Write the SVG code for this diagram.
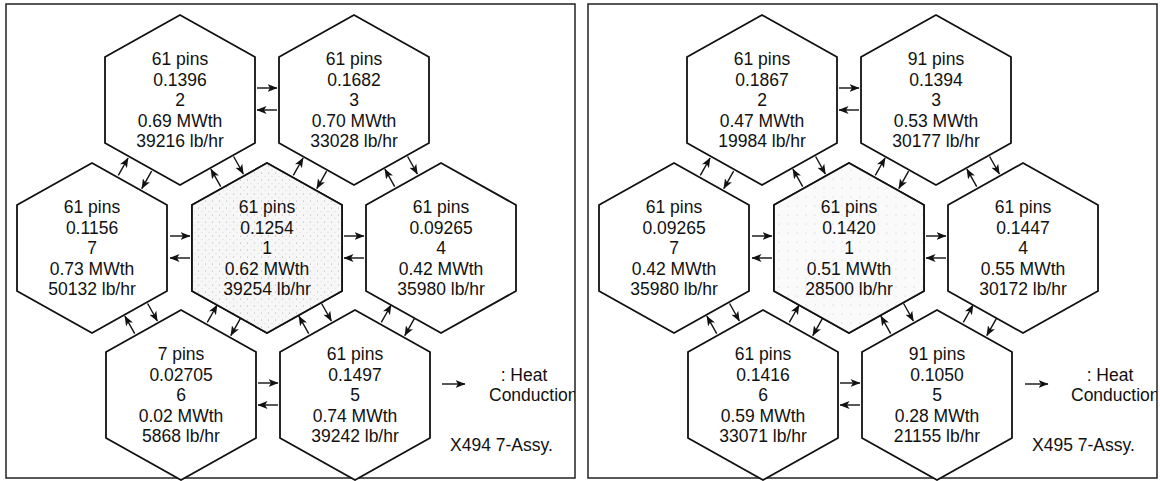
<svg xmlns="http://www.w3.org/2000/svg" xmlns:xlink="http://www.w3.org/1999/xlink" width="1160" height="481" viewBox="0 0 1160 481">
<style>
.bg{fill:#ffffff}
.frame{fill:none;stroke:#222;stroke-width:1.5}
.hex{fill:#ffffff;stroke:#111;stroke-width:1.8;stroke-linejoin:miter}
.coreL{fill:url(#stipL)}
.coreR{fill:url(#stipR)}
.t{font-family:"Liberation Sans",Arial,sans-serif;font-size:17.5px;fill:#111;text-anchor:middle}
.ts{font-family:"Liberation Sans",Arial,sans-serif;font-size:17.5px;fill:#111;text-anchor:start}
.c{stroke:#111;stroke-width:1.4;fill:none;marker-end:url(#ah)}
</style>
<defs>
<marker id="ah" viewBox="0 0 10 8" refX="9.5" refY="4" markerWidth="10" markerHeight="8" markerUnits="userSpaceOnUse" orient="auto">
<path d="M0,0 L10,4 L0,8 L2.5,4 z" fill="#111"/>
</marker>
<pattern id="stipL" width="7" height="7" patternUnits="userSpaceOnUse">
<rect width="7" height="7" fill="#f7f7f7"/>
<circle cx="1.5" cy="2" r="0.55" fill="#a8a8a8"/>
<circle cx="5" cy="5.5" r="0.45" fill="#bbbbbb"/>
</pattern>
<pattern id="stipR" width="9" height="9" patternUnits="userSpaceOnUse">
<rect width="9" height="9" fill="#fafafa"/>
<circle cx="2" cy="3" r="0.5" fill="#bdbdbd"/>
</pattern>
<polygon id="hexshape" points="0,-85 75,-43 75,43 0,85 -75,43 -75,-43"/>
<clipPath id="clipL"><rect x="6" y="4" width="569" height="474"/></clipPath>
<clipPath id="clipR"><rect x="588" y="4" width="569" height="474"/></clipPath>
</defs>
<rect class="bg" x="0" y="0" width="1160" height="481"/>

<!-- LEFT PANEL: X494 -->
<g id="panel-X494">
<rect class="frame" x="6" y="4" width="569" height="474"/>

<g id="L-node2" transform="translate(180,100)">
<use xlink:href="#hexshape" class="hex"/>
<text class="t" y="-35">61 pins</text><text class="t" y="-14.5">0.1396</text><text class="t" y="6">2</text><text class="t" y="26.5">0.69 MWth</text><text class="t" y="47">39216 lb/hr</text>
</g>
<g id="L-node3" transform="translate(354,100)">
<use xlink:href="#hexshape" class="hex"/>
<text class="t" y="-35">61 pins</text><text class="t" y="-14.5">0.1682</text><text class="t" y="6">3</text><text class="t" y="26.5">0.70 MWth</text><text class="t" y="47">33028 lb/hr</text>
</g>
<g id="L-node7" transform="translate(92,248)">
<use xlink:href="#hexshape" class="hex"/>
<text class="t" y="-35">61 pins</text><text class="t" y="-14.5">0.1156</text><text class="t" y="6">7</text><text class="t" y="26.5">0.73 MWth</text><text class="t" y="47">50132 lb/hr</text>
</g>
<g id="L-node1" transform="translate(267,248)">
<use xlink:href="#hexshape" class="hex"/>
<use xlink:href="#hexshape" class="hex coreL"/>
<text class="t" y="-35">61 pins</text><text class="t" y="-14.5">0.1254</text><text class="t" y="6">1</text><text class="t" y="26.5">0.62 MWth</text><text class="t" y="47">39254 lb/hr</text>
</g>
<g id="L-node4" transform="translate(441,248)">
<use xlink:href="#hexshape" class="hex"/>
<text class="t" y="-35">61 pins</text><text class="t" y="-14.5">0.09265</text><text class="t" y="6">4</text><text class="t" y="26.5">0.42 MWth</text><text class="t" y="47">35980 lb/hr</text>
</g>
<g id="L-node6" transform="translate(181,395)">
<use xlink:href="#hexshape" class="hex"/>
<text class="t" y="-35">7 pins</text><text class="t" y="-14.5">0.02705</text><text class="t" y="6">6</text><text class="t" y="26.5">0.02 MWth</text><text class="t" y="47">5868 lb/hr</text>
</g>
<g id="L-node5" transform="translate(355,395)">
<use xlink:href="#hexshape" class="hex"/>
<text class="t" y="-35">61 pins</text><text class="t" y="-14.5">0.1497</text><text class="t" y="6">5</text><text class="t" y="26.5">0.74 MWth</text><text class="t" y="47">39242 lb/hr</text>
</g>

<g id="L-connectors">
<line class="c" x1="257" y1="88" x2="277" y2="88"/>
<line class="c" x1="277" y1="110" x2="257" y2="110"/>
<line class="c" x1="170" y1="236" x2="190" y2="236"/>
<line class="c" x1="190" y1="258" x2="170" y2="258"/>
<line class="c" x1="344" y1="236" x2="364" y2="236"/>
<line class="c" x1="364" y1="258" x2="344" y2="258"/>
<line class="c" x1="258" y1="383" x2="278" y2="383"/>
<line class="c" x1="278" y1="405" x2="258" y2="405"/>
<line class="c" x1="118.3" y1="175.4" x2="128.1" y2="158"/>
<line class="c" x1="151.6" y1="171.2" x2="141.8" y2="188.6"/>
<line class="c" x1="293.3" y1="175.4" x2="303.1" y2="158"/>
<line class="c" x1="326.6" y1="171.2" x2="316.8" y2="188.6"/>
<line class="c" x1="207.3" y1="322.4" x2="217.1" y2="305"/>
<line class="c" x1="240.6" y1="318.2" x2="230.8" y2="335.6"/>
<line class="c" x1="381.3" y1="322.4" x2="391.1" y2="305"/>
<line class="c" x1="414.6" y1="318.2" x2="404.8" y2="335.6"/>
<line class="c" x1="220.7" y1="186.7" x2="210.9" y2="169.2"/>
<line class="c" x1="233.6" y1="156.5" x2="243.4" y2="174"/>
<line class="c" x1="394.7" y1="186.7" x2="384.9" y2="169.2"/>
<line class="c" x1="407.6" y1="156.5" x2="417.4" y2="174"/>
<line class="c" x1="134.7" y1="333.7" x2="124.9" y2="316.2"/>
<line class="c" x1="147.6" y1="303.5" x2="157.4" y2="321"/>
<line class="c" x1="308.7" y1="333.7" x2="298.9" y2="316.2"/>
<line class="c" x1="321.6" y1="303.5" x2="331.4" y2="321"/>
</g>

<g id="L-legend" clip-path="url(#clipL)">
<line class="c" x1="442" y1="384" x2="465" y2="384"/>
<text class="t" x="524" y="381">: Heat</text>
<text class="ts" x="489" y="401">Conduction</text>
<text class="ts" x="450" y="451">X494 7-Assy.</text>
</g>
</g>

<!-- RIGHT PANEL: X495 -->
<g id="panel-X495">
<rect class="frame" x="588" y="4" width="569" height="474"/>

<g id="R-node2" transform="translate(762,100)">
<use xlink:href="#hexshape" class="hex"/>
<text class="t" y="-35">61 pins</text><text class="t" y="-14.5">0.1867</text><text class="t" y="6">2</text><text class="t" y="26.5">0.47 MWth</text><text class="t" y="47">19984 lb/hr</text>
</g>
<g id="R-node3" transform="translate(936,100)">
<use xlink:href="#hexshape" class="hex"/>
<text class="t" y="-35">91 pins</text><text class="t" y="-14.5">0.1394</text><text class="t" y="6">3</text><text class="t" y="26.5">0.53 MWth</text><text class="t" y="47">30177 lb/hr</text>
</g>
<g id="R-node7" transform="translate(674,248)">
<use xlink:href="#hexshape" class="hex"/>
<text class="t" y="-35">61 pins</text><text class="t" y="-14.5">0.09265</text><text class="t" y="6">7</text><text class="t" y="26.5">0.42 MWth</text><text class="t" y="47">35980 lb/hr</text>
</g>
<g id="R-node1" transform="translate(849,248)">
<use xlink:href="#hexshape" class="hex"/>
<use xlink:href="#hexshape" class="hex coreR"/>
<text class="t" y="-35">61 pins</text><text class="t" y="-14.5">0.1420</text><text class="t" y="6">1</text><text class="t" y="26.5">0.51 MWth</text><text class="t" y="47">28500 lb/hr</text>
</g>
<g id="R-node4" transform="translate(1023,248)">
<use xlink:href="#hexshape" class="hex"/>
<text class="t" y="-35">61 pins</text><text class="t" y="-14.5">0.1447</text><text class="t" y="6">4</text><text class="t" y="26.5">0.55 MWth</text><text class="t" y="47">30172 lb/hr</text>
</g>
<g id="R-node6" transform="translate(763,395)">
<use xlink:href="#hexshape" class="hex"/>
<text class="t" y="-35">61 pins</text><text class="t" y="-14.5">0.1416</text><text class="t" y="6">6</text><text class="t" y="26.5">0.59 MWth</text><text class="t" y="47">33071 lb/hr</text>
</g>
<g id="R-node5" transform="translate(937,395)">
<use xlink:href="#hexshape" class="hex"/>
<text class="t" y="-35">91 pins</text><text class="t" y="-14.5">0.1050</text><text class="t" y="6">5</text><text class="t" y="26.5">0.28 MWth</text><text class="t" y="47">21155 lb/hr</text>
</g>

<g id="R-connectors" transform="translate(582,0)">
<line class="c" x1="257" y1="88" x2="277" y2="88"/>
<line class="c" x1="277" y1="110" x2="257" y2="110"/>
<line class="c" x1="170" y1="236" x2="190" y2="236"/>
<line class="c" x1="190" y1="258" x2="170" y2="258"/>
<line class="c" x1="344" y1="236" x2="364" y2="236"/>
<line class="c" x1="364" y1="258" x2="344" y2="258"/>
<line class="c" x1="258" y1="383" x2="278" y2="383"/>
<line class="c" x1="278" y1="405" x2="258" y2="405"/>
<line class="c" x1="118.3" y1="175.4" x2="128.1" y2="158"/>
<line class="c" x1="151.6" y1="171.2" x2="141.8" y2="188.6"/>
<line class="c" x1="293.3" y1="175.4" x2="303.1" y2="158"/>
<line class="c" x1="326.6" y1="171.2" x2="316.8" y2="188.6"/>
<line class="c" x1="207.3" y1="322.4" x2="217.1" y2="305"/>
<line class="c" x1="240.6" y1="318.2" x2="230.8" y2="335.6"/>
<line class="c" x1="381.3" y1="322.4" x2="391.1" y2="305"/>
<line class="c" x1="414.6" y1="318.2" x2="404.8" y2="335.6"/>
<line class="c" x1="220.7" y1="186.7" x2="210.9" y2="169.2"/>
<line class="c" x1="233.6" y1="156.5" x2="243.4" y2="174"/>
<line class="c" x1="394.7" y1="186.7" x2="384.9" y2="169.2"/>
<line class="c" x1="407.6" y1="156.5" x2="417.4" y2="174"/>
<line class="c" x1="134.7" y1="333.7" x2="124.9" y2="316.2"/>
<line class="c" x1="147.6" y1="303.5" x2="157.4" y2="321"/>
<line class="c" x1="308.7" y1="333.7" x2="298.9" y2="316.2"/>
<line class="c" x1="321.6" y1="303.5" x2="331.4" y2="321"/>
</g>

<g id="R-legend" clip-path="url(#clipR)">
<line class="c" x1="1025" y1="384" x2="1048" y2="384"/>
<text class="t" x="1110" y="381">: Heat</text>
<text class="ts" x="1071" y="401">Conduction</text>
<text class="ts" x="1032" y="451">X495 7-Assy.</text>
</g>
</g>
</svg>
